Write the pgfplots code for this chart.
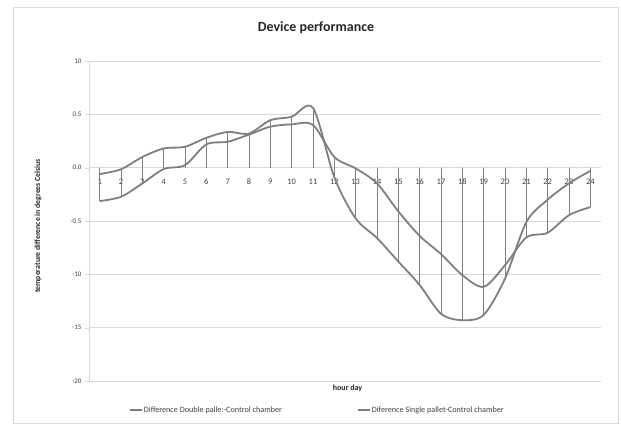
\documentclass[border=0pt]{standalone}
\usepackage{fontspec}
\setmainfont{Carlito}
\usepackage{pgfplots}
\pgfplotsset{compat=1.18}
\definecolor{serie}{HTML}{7F7F7F}
\definecolor{gridc}{HTML}{D9D9D9}
\definecolor{txt}{HTML}{404040}
\pgfplotstableread{
x a b
1 -0.06 -0.313
2 -0.015 -0.273
3 0.10 -0.148
4 0.18 -0.013
5 0.196 0.024
6 0.28 0.218
7 0.335 0.243
8 0.32 0.31
9 0.445 0.384
10 0.477 0.406
11 0.56 0.40
12 -0.09 0.10
13 -0.476 -0.007
14 -0.66 -0.147
15 -0.88 -0.41
16 -1.10 -0.64
17 -1.37 -0.81
18 -1.43 -1.007
19 -1.38 -1.117
20 -1.04 -0.914
21 -0.51 -0.654
22 -0.30 -0.61
23 -0.147 -0.445
24 -0.03 -0.37
}\datatab
\begin{document}
\begin{tikzpicture}[x=1bp,y=1bp]
\path (0,0) rectangle (621,425);
\draw[gridc] (13,2) rectangle (618,418);
\node[font=\bfseries\fontsize{14}{16}\selectfont, text=black!85] at (316,397) {Device performance};
\node[rotate=90, font=\bfseries\fontsize{7.8}{9}\selectfont, text=black!85] at (38,199) {temperature difference in degrees Celsius};
\begin{axis}[
  at={(89bp,44bp)}, anchor=south west,
  scale only axis, width=512bp, height=320bp,
  xmin=0.5, xmax=24.5, ymin=-2, ymax=1,
  axis y line=left, axis x line=middle,
  axis line style={gridc, -},
  xtick={1,...,24},
  ytick={-2,-1.5,-1,-0.5,0,0.5,1},
  yticklabels={-20,-15,-10,-0.5,0.0,0.5,10},
  /pgf/number format/assume math mode=true,
  ymajorgrids, grid style={gridc, line width=0.8bp},
  major x tick style={draw=none},
  major y tick style={gridc},
  tick align=outside, major tick length=4bp,
  xticklabel style={font=\fontsize{8.5}{9}\selectfont, text=txt, yshift=-4bp},
  yticklabel style={font=\fontsize{7}{8}\selectfont, text=txt},
  clip=false,
  legend columns=2,
  legend cell align=left,
  legend style={at={(0.072,-0.0906)}, anchor=west, draw=none, fill=none,
    font=\fontsize{8.2}{9}\selectfont, text=txt,
    nodes={inner xsep=1bp},
    /tikz/every even column/.append style={column sep=74bp}},
  legend image code/.code={\draw[#1] (0bp,0bp) -- (12bp,0bp);},
]
\addplot[ycomb, serie, line width=0.7bp, forget plot] table[x=x, y=a] {\datatab};
\addplot[ycomb, serie, line width=0.7bp, forget plot] table[x=x, y=b] {\datatab};
\addplot[serie, line width=1.8bp, smooth, tension=0.5, mark=none] table[x=x, y=a] {\datatab};
\addlegendentry{Difference Double palle:-Control chamber}
\addplot[serie, line width=1.8bp, smooth, tension=0.5, mark=none] table[x=x, y=b] {\datatab};
\addlegendentry{Diference Single pallet-Control chamber}
\node[font=\bfseries\fontsize{8}{9}\selectfont, text=black!85, anchor=north] at (rel axis cs:0.505,0) {hour day};
\end{axis}
\end{tikzpicture}
\end{document}
